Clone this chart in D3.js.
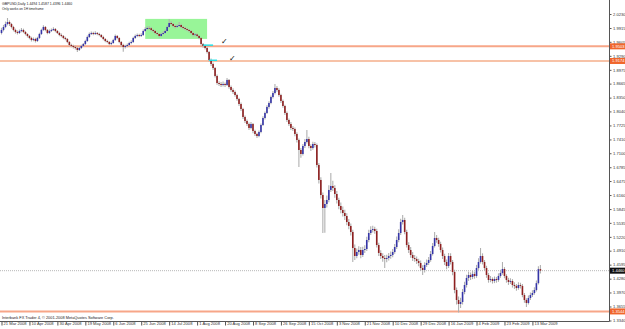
<!DOCTYPE html>
<html>
<head>
<meta charset="utf-8">
<script src="https://cdn.jsdelivr.net/npm/d3@7"></script>
<style>
  html, body { margin: 0; padding: 0; background: #fff; }
  #chart { width: 625px; height: 329px; }
  svg { display: block; font-family: "Liberation Sans", Arial, sans-serif; }
</style>
</head>
<body>
<div id="chart"></div>
<script>
// 标签
const headerText = "GBPUSD,Daily  1.4494 1.4587 1.4396 1.4460"
const noteText = "Only works on 1H timeframe"
const footerText = "Interbank FX Trader 4, \u00a9 2001-2008 MetaQuotes Software Corp."

// 时间轴: bar index -> 日期
const dateBars = [0, 14, 28, 42, 56, 70, 84, 98, 112, 126, 140, 154, 168, 182, 196, 210, 224, 238, 252, 266]
const dateLabels = ["21 Mar 2008", "10 Apr 2008", "30 Apr 2008", "19 May 2008", "6 Jun 2008", "25 Jun 2008",
  "14 Jul 2008", "1 Aug 2008", "20 Aug 2008", "8 Sep 2008", "26 Sep 2008", "15 Oct 2008", "3 Nov 2008",
  "21 Nov 2008", "10 Dec 2008", "29 Dec 2008", "16 Jan 2009", "4 Feb 2009", "23 Feb 2009", "13 Mar 2009"]

// 价格轴
const priceTicks = [2.0230, 1.9915, 1.9605, 1.9290, 1.8975, 1.8665, 1.8350, 1.8040, 1.7725, 1.7410, 1.7100,
  1.6785, 1.6475, 1.6160, 1.5845, 1.5535, 1.5220, 1.4910, 1.4595, 1.4280, 1.3970, 1.3655, 1.3340]

// 日线 OHLC
const opens = [
  1.9803, 1.9871, 1.9938, 2.0005, 2.0050, 2.0005, 1.9938, 1.9871, 1.9826, 1.9803,
  1.9848, 1.9871, 1.9826, 1.9781, 1.9736, 1.9691, 1.9646, 1.9668, 1.9623, 1.9691,
  1.9781, 1.9871, 1.9938, 1.9871, 1.9803, 1.9848, 1.9871, 1.9893, 1.9848, 1.9803,
  1.9758, 1.9736, 1.9691, 1.9668, 1.9601, 1.9533, 1.9511, 1.9488, 1.9466, 1.9421,
  1.9466, 1.9511, 1.9556, 1.9623, 1.9713, 1.9781, 1.9803, 1.9781, 1.9803, 1.9781,
  1.9758, 1.9713, 1.9668, 1.9623, 1.9601, 1.9556, 1.9578, 1.9646, 1.9736, 1.9691,
  1.9601, 1.9533, 1.9488, 1.9511, 1.9533, 1.9578, 1.9601, 1.9691, 1.9736, 1.9758,
  1.9736, 1.9758, 1.9848, 1.9893, 1.9916, 1.9910, 1.9871, 1.9848, 1.9803, 1.9781,
  1.9736, 1.9781, 1.9803, 1.9848, 1.9938, 2.0028, 2.0005, 1.9961, 1.9938, 1.9961,
  1.9983, 1.9938, 1.9916, 1.9893, 1.9871, 1.9848, 1.9803, 1.9758, 1.9770, 1.9736,
  1.9691, 1.9556, 1.9511, 1.9466, 1.9376, 1.9196, 1.9106, 1.9016, 1.8837, 1.8679,
  1.8657, 1.8634, 1.8657, 1.8634, 1.8747, 1.8589, 1.8522, 1.8477, 1.8409, 1.8320,
  1.8207, 1.8095, 1.7915, 1.7825, 1.7757, 1.7668, 1.7757, 1.7600, 1.7533, 1.7488,
  1.7578, 1.7735, 1.7892, 1.8005, 1.8140, 1.8230, 1.8364, 1.8454, 1.8567, 1.8522,
  1.8409, 1.8275, 1.8162, 1.8005, 1.7847, 1.7757, 1.7668, 1.7645, 1.7533, 1.7398,
  1.7173, 1.7083, 1.7263, 1.7353, 1.7420, 1.7263, 1.7218, 1.7308, 1.7285, 1.6836,
  1.6499, 1.6161, 1.5869, 1.5959, 1.6049, 1.6274, 1.6364, 1.6319, 1.6184, 1.6049,
  1.5914, 1.5824, 1.5757, 1.5689, 1.5554, 1.5465, 1.5330, 1.4970, 1.4790, 1.4880,
  1.4925, 1.4813, 1.4925, 1.4947, 1.5150, 1.5307, 1.5375, 1.5397, 1.5352, 1.5037,
  1.4858, 1.4790, 1.4745, 1.4723, 1.4745, 1.4790, 1.4813, 1.4880, 1.4992, 1.5150,
  1.5307, 1.5554, 1.5599, 1.5330, 1.5037, 1.4925, 1.4813, 1.4745, 1.4723, 1.4678,
  1.4633, 1.4520, 1.4476, 1.4588, 1.4633, 1.4700, 1.4835, 1.5015, 1.5195, 1.5150,
  1.5060, 1.4925, 1.4790, 1.4655, 1.4565, 1.4790, 1.4655, 1.4431, 1.4026, 1.3801,
  1.3711, 1.3756, 1.3981, 1.4138, 1.4296, 1.4363, 1.4318, 1.4386, 1.4341, 1.4520,
  1.4655, 1.4790, 1.4655, 1.4520, 1.4363, 1.4251, 1.4273, 1.4228, 1.4273, 1.4251,
  1.4341, 1.4408, 1.4498, 1.4341, 1.4251, 1.4206, 1.4228, 1.4138, 1.4116, 1.4071,
  1.4138, 1.4116, 1.3913, 1.3801, 1.3734, 1.3846, 1.3913, 1.3958, 1.4026, 1.4180, 1.4494
]
const highs = [
  1.9920, 1.9985, 2.0060, 2.0140, 2.0085, 2.0030, 1.9965, 1.9900, 1.9860, 1.9880,
  1.9915, 1.9900, 1.9850, 1.9800, 1.9760, 1.9720, 1.9700, 1.9695, 1.9720, 1.9810,
  1.9900, 1.9975, 1.9960, 1.9890, 1.9880, 1.9905, 1.9930, 1.9915, 1.9870, 1.9830,
  1.9790, 1.9760, 1.9720, 1.9690, 1.9625, 1.9560, 1.9540, 1.9515, 1.9490, 1.9495,
  1.9540, 1.9580, 1.9650, 1.9745, 1.9815, 1.9835, 1.9830, 1.9840, 1.9825, 1.9810,
  1.9780, 1.9740, 1.9690, 1.9650, 1.9625, 1.9610, 1.9675, 1.9770, 1.9760, 1.9710,
  1.9625, 1.9560, 1.9540, 1.9565, 1.9605, 1.9640, 1.9720, 1.9770, 1.9790, 1.9785,
  1.9795, 1.9880, 1.9930, 1.9955, 1.9960, 1.9935, 1.9895, 1.9870, 1.9830, 1.9800,
  1.9810, 1.9840, 1.9880, 1.9970, 2.0118, 2.0065, 2.0030, 1.9990, 2.0000, 2.0050,
  2.0010, 1.9965, 1.9945, 1.9920, 1.9895, 1.9870, 1.9830, 1.9800, 1.9790, 1.9760,
  1.9710, 1.9580, 1.9540, 1.9490, 1.9400, 1.9230, 1.9140, 1.9040, 1.8870, 1.8720,
  1.8700, 1.8710, 1.8690, 1.8790, 1.8770, 1.8620, 1.8560, 1.8510, 1.8440, 1.8350,
  1.8240, 1.8120, 1.7950, 1.7860, 1.7790, 1.7800, 1.7780, 1.7630, 1.7560, 1.7610,
  1.7770, 1.7930, 1.8040, 1.8180, 1.8270, 1.8400, 1.8500, 1.8657, 1.8610, 1.8560,
  1.8440, 1.8310, 1.8190, 1.8040, 1.7880, 1.7800, 1.7710, 1.7680, 1.7570, 1.7430,
  1.7220, 1.7310, 1.7420, 1.7623, 1.7470, 1.7300, 1.7360, 1.7350, 1.7320, 1.6880,
  1.6560, 1.6220, 1.6050, 1.6150, 1.6380, 1.6656, 1.6480, 1.6380, 1.6250, 1.6100,
  1.5990, 1.5900, 1.5830, 1.5750, 1.5620, 1.5520, 1.5380, 1.5050, 1.4960, 1.5010,
  1.4990, 1.5000, 1.5030, 1.5220, 1.5380, 1.5460, 1.5470, 1.5450, 1.5400, 1.5090,
  1.4920, 1.4850, 1.4810, 1.4820, 1.4860, 1.4890, 1.4950, 1.5060, 1.5230, 1.5390,
  1.5630, 1.5712, 1.5650, 1.5380, 1.5100, 1.4990, 1.4880, 1.4810, 1.4780, 1.4730,
  1.4690, 1.4580, 1.4650, 1.4710, 1.4770, 1.4900, 1.5080, 1.5330, 1.5260, 1.5200,
  1.5110, 1.4980, 1.4840, 1.4710, 1.4860, 1.4850, 1.4700, 1.4480, 1.4080, 1.3880,
  1.3850, 1.4050, 1.4210, 1.4370, 1.4440, 1.4420, 1.4460, 1.4440, 1.4590, 1.4740,
  1.4970, 1.4850, 1.4700, 1.4570, 1.4410, 1.4340, 1.4310, 1.4330, 1.4320, 1.4400,
  1.4480, 1.4655, 1.4540, 1.4380, 1.4300, 1.4290, 1.4270, 1.4200, 1.4160, 1.4200,
  1.4190, 1.4160, 1.3960, 1.3840, 1.3900, 1.3970, 1.4020, 1.4090, 1.4240, 1.4560, 1.4587
]
const lows = [
  1.9770, 1.9840, 1.9910, 1.9975, 1.9960, 1.9905, 1.9840, 1.9790, 1.9770, 1.9780,
  1.9820, 1.9800, 1.9750, 1.9700, 1.9660, 1.9610, 1.9615, 1.9590, 1.9600, 1.9670,
  1.9760, 1.9850, 1.9845, 1.9775, 1.9780, 1.9825, 1.9850, 1.9820, 1.9780, 1.9730,
  1.9710, 1.9665, 1.9640, 1.9575, 1.9505, 1.9480, 1.9455, 1.9430, 1.9376, 1.9400,
  1.9445, 1.9490, 1.9535, 1.9600, 1.9690, 1.9760, 1.9755, 1.9760, 1.9750, 1.9730,
  1.9690, 1.9640, 1.9595, 1.9570, 1.9525, 1.9530, 1.9560, 1.9625, 1.9665, 1.9575,
  1.9500, 1.9380, 1.9455, 1.9480, 1.9510, 1.9550, 1.9580, 1.9670, 1.9710, 1.9705,
  1.9715, 1.9735, 1.9825, 1.9870, 1.9880, 1.9845, 1.9815, 1.9775, 1.9750, 1.9700,
  1.9715, 1.9760, 1.9785, 1.9830, 1.9920, 1.9975, 1.9930, 1.9905, 1.9915, 1.9940,
  1.9910, 1.9885, 1.9865, 1.9840, 1.9815, 1.9775, 1.9725, 1.9730, 1.9705, 1.9660,
  1.9530, 1.9470, 1.9430, 1.9340, 1.9160, 1.9060, 1.8970, 1.8800, 1.8640, 1.8610,
  1.8590, 1.8600, 1.8590, 1.8610, 1.8550, 1.8480, 1.8430, 1.8370, 1.8280, 1.8160,
  1.8050, 1.7870, 1.7780, 1.7710, 1.7620, 1.7640, 1.7550, 1.7490, 1.7443, 1.7460,
  1.7550, 1.7710, 1.7860, 1.7980, 1.8100, 1.8200, 1.8330, 1.8420, 1.8480, 1.8370,
  1.8230, 1.8120, 1.7960, 1.7800, 1.7710, 1.7620, 1.7600, 1.7480, 1.7340, 1.6791,
  1.7000, 1.7050, 1.7220, 1.7320, 1.7210, 1.7150, 1.7180, 1.7230, 1.6780, 1.6420,
  1.6080, 1.5307, 1.5310, 1.5880, 1.6000, 1.6230, 1.6250, 1.6100, 1.5970, 1.5840,
  1.5750, 1.5680, 1.5600, 1.5480, 1.5390, 1.5250, 1.4655, 1.4700, 1.4740, 1.4820,
  1.4740, 1.4770, 1.4860, 1.4900, 1.5100, 1.5260, 1.5320, 1.5290, 1.4980, 1.4790,
  1.4720, 1.4660, 1.4520, 1.4650, 1.4690, 1.4730, 1.4760, 1.4840, 1.4950, 1.5100,
  1.5260, 1.5500, 1.5280, 1.4980, 1.4860, 1.4750, 1.4680, 1.4660, 1.4610, 1.4560,
  1.4450, 1.4363, 1.4420, 1.4540, 1.4590, 1.4660, 1.4800, 1.4980, 1.5090, 1.5000,
  1.4870, 1.4720, 1.4590, 1.4490, 1.4520, 1.4600, 1.4360, 1.3950, 1.3700, 1.3520,
  1.3620, 1.3700, 1.3930, 1.4080, 1.4230, 1.4250, 1.4270, 1.4280, 1.4300, 1.4480,
  1.4620, 1.4600, 1.4460, 1.4300, 1.4190, 1.4200, 1.4170, 1.4180, 1.4190, 1.4210,
  1.4300, 1.4370, 1.4290, 1.4190, 1.4140, 1.4160, 1.4080, 1.4050, 1.4010, 1.4030,
  1.4060, 1.3860, 1.3740, 1.3644, 1.3700, 1.3800, 1.3870, 1.3920, 1.3990, 1.4150, 1.4396
]
const closes = [
  1.9871, 1.9938, 2.0005, 2.0050, 2.0005, 1.9938, 1.9871, 1.9826, 1.9803, 1.9848,
  1.9871, 1.9826, 1.9781, 1.9736, 1.9691, 1.9646, 1.9668, 1.9623, 1.9691, 1.9781,
  1.9871, 1.9938, 1.9871, 1.9803, 1.9848, 1.9871, 1.9893, 1.9848, 1.9803, 1.9758,
  1.9736, 1.9691, 1.9668, 1.9601, 1.9533, 1.9511, 1.9488, 1.9466, 1.9421, 1.9466,
  1.9511, 1.9556, 1.9623, 1.9713, 1.9781, 1.9803, 1.9781, 1.9803, 1.9781, 1.9758,
  1.9713, 1.9668, 1.9623, 1.9601, 1.9556, 1.9578, 1.9646, 1.9736, 1.9691, 1.9601,
  1.9533, 1.9488, 1.9511, 1.9533, 1.9578, 1.9601, 1.9691, 1.9736, 1.9758, 1.9736,
  1.9758, 1.9848, 1.9893, 1.9916, 1.9910, 1.9871, 1.9848, 1.9803, 1.9781, 1.9736,
  1.9781, 1.9803, 1.9848, 1.9938, 2.0028, 2.0005, 1.9961, 1.9938, 1.9961, 1.9983,
  1.9938, 1.9916, 1.9893, 1.9871, 1.9848, 1.9803, 1.9758, 1.9770, 1.9736, 1.9691,
  1.9556, 1.9511, 1.9466, 1.9376, 1.9196, 1.9106, 1.9016, 1.8837, 1.8679, 1.8657,
  1.8634, 1.8657, 1.8634, 1.8747, 1.8589, 1.8522, 1.8477, 1.8409, 1.8320, 1.8207,
  1.8095, 1.7915, 1.7825, 1.7757, 1.7668, 1.7757, 1.7600, 1.7533, 1.7488, 1.7578,
  1.7735, 1.7892, 1.8005, 1.8140, 1.8230, 1.8364, 1.8454, 1.8567, 1.8522, 1.8409,
  1.8275, 1.8162, 1.8005, 1.7847, 1.7757, 1.7668, 1.7645, 1.7533, 1.7398, 1.7173,
  1.7083, 1.7263, 1.7353, 1.7420, 1.7263, 1.7218, 1.7308, 1.7285, 1.6836, 1.6499,
  1.6161, 1.5869, 1.5959, 1.6049, 1.6274, 1.6364, 1.6319, 1.6184, 1.6049, 1.5914,
  1.5824, 1.5757, 1.5689, 1.5554, 1.5465, 1.5330, 1.4970, 1.4790, 1.4880, 1.4925,
  1.4813, 1.4925, 1.4947, 1.5150, 1.5307, 1.5375, 1.5397, 1.5352, 1.5037, 1.4858,
  1.4790, 1.4745, 1.4723, 1.4745, 1.4790, 1.4813, 1.4880, 1.4992, 1.5150, 1.5307,
  1.5554, 1.5599, 1.5330, 1.5037, 1.4925, 1.4813, 1.4745, 1.4723, 1.4678, 1.4633,
  1.4520, 1.4476, 1.4588, 1.4633, 1.4700, 1.4835, 1.5015, 1.5195, 1.5150, 1.5060,
  1.4925, 1.4790, 1.4655, 1.4565, 1.4790, 1.4655, 1.4431, 1.4026, 1.3801, 1.3711,
  1.3756, 1.3981, 1.4138, 1.4296, 1.4363, 1.4318, 1.4386, 1.4341, 1.4520, 1.4655,
  1.4790, 1.4655, 1.4520, 1.4363, 1.4251, 1.4273, 1.4228, 1.4273, 1.4251, 1.4341,
  1.4408, 1.4498, 1.4341, 1.4251, 1.4206, 1.4228, 1.4138, 1.4116, 1.4071, 1.4138,
  1.4116, 1.3913, 1.3801, 1.3734, 1.3846, 1.3913, 1.3958, 1.4026, 1.4180, 1.4494, 1.4460
]

// 图上的对象 (水平线、区域、标记)
const levelPrices = [1.9503, 1.9174, 1.3544]
const levelWidths = [2, 1.2, 2]
const lastPrice = 1.4460
const zoneBars = [72, 103]
const zonePrices = [2.0120, 1.9670]
const cyanBars = [[101, 106], [104, 108]]
const cyanPrices = [1.9530, 1.9190]
const checkBars = [110, 114]
const checkPrices = [1.9560, 1.9180]

const W = 625, H = 329
const plot = {left: 0, top: 0, right: 609, bottom: 321}

const container = d3.select("#chart")
container.html("")
const svg = container.append("svg").attr("width", W).attr("height", H)
svg.append("rect").attr("width", W).attr("height", H).attr("fill", "#fff")

const x = d3.scaleLinear().domain([0, closes.length - 1]).range([1.5, 540.4])
const y = d3.scaleLinear().domain([1.3340, 2.0230]).range([320.5, 14])

const root = svg.append("g")

// 绿色区域
root.append("rect")
  .attr("x", x(zoneBars[0])).attr("width", x(zoneBars[1]) - x(zoneBars[0]))
  .attr("y", y(zonePrices[0])).attr("height", y(zonePrices[1]) - y(zonePrices[0]))
  .attr("fill", "#98f598")

// 水平线
root.selectAll("line.level")
  .data(levelPrices)
  .enter()
  .append("line")
  .attr("x1", plot.left).attr("x2", plot.right)
  .attr("y1", d => y(d)).attr("y2", d => y(d))
  .attr("stroke", (d, i) => i === 1 ? "#ef8650" : "#f7a688")
  .attr("stroke-width", (d, i) => levelWidths[i])

// 当前价 虚线
root.append("line")
  .attr("x1", plot.left).attr("x2", plot.right)
  .attr("y1", y(lastPrice)).attr("y2", y(lastPrice))
  .attr("stroke", "#9a9a9a").attr("stroke-width", 0.7).attr("stroke-dasharray", "1,1")

// 蜡烛
const bars = d3.range(closes.length)
const candles = root.append("g")
candles.selectAll("line")
  .data(bars)
  .enter()
  .append("line")
  .attr("x1", i => x(i)).attr("x2", i => x(i))
  .attr("y1", i => y(highs[i])).attr("y2", i => y(lows[i]))
  .attr("stroke", "#b0b0b0").attr("stroke-width", 1.1)
candles.selectAll("rect")
  .data(bars)
  .enter()
  .append("rect")
  .attr("x", i => x(i) - 0.8).attr("width", 1.6)
  .attr("y", i => y(Math.max(opens[i], closes[i])))
  .attr("height", i => Math.max(0.6, Math.abs(y(opens[i]) - y(closes[i]))))
  .attr("fill", i => closes[i] >= opens[i] ? "#3535a8" : "#8e2020")

// 青色短线
root.selectAll("line.cyan")
  .data(cyanBars)
  .enter()
  .append("line")
  .attr("x1", d => x(d[0])).attr("x2", d => x(d[1]))
  .attr("y1", (d, i) => y(cyanPrices[i])).attr("y2", (d, i) => y(cyanPrices[i]))
  .attr("stroke", "#19e0e8").attr("stroke-width", 1.4)

// 勾号
root.selectAll("text.check")
  .data(checkBars)
  .enter()
  .append("text")
  .attr("x", d => x(d)).attr("y", (d, i) => y(checkPrices[i]))
  .attr("font-family", "DejaVu Sans").attr("font-size", 8)
  .attr("fill", "#111")
  .text("\u2713")

// 边框
svg.append("line").attr("x1", plot.right + 0.5).attr("x2", plot.right + 0.5)
  .attr("y1", 0).attr("y2", plot.bottom + 0.5).attr("stroke", "#555").attr("stroke-width", 1)
svg.append("line").attr("x1", 0).attr("x2", plot.right + 0.5)
  .attr("y1", plot.bottom + 0.5).attr("y2", plot.bottom + 0.5).attr("stroke", "#555").attr("stroke-width", 1)

// 价格轴
const yAxis = d3.axisRight(y).tickValues(priceTicks).tickFormat(d3.format(".4f")).tickSize(2).tickPadding(1.5)
const yg = svg.append("g").attr("transform", `translate(${plot.right + 0.5},0)`).call(yAxis)
yg.select(".domain").remove()
yg.selectAll("line").attr("stroke", "#555")
yg.selectAll("text").attr("font-size", 4.1).attr("fill", "#333").attr("font-family", "Liberation Sans, Arial, sans-serif")

// 价格标签
const tags = levelPrices.map((p, i) => ({p, fill: "#f0662c"})).concat([{p: lastPrice, fill: "#111"}])
const tagG = svg.append("g").selectAll("g").data(tags).enter().append("g")
  .attr("transform", d => `translate(${plot.right + 1},${y(d.p)})`)
tagG.append("rect").attr("x", 0).attr("y", -3).attr("width", 15).attr("height", 6).attr("fill", d => d.fill)
tagG.append("text").attr("x", 2).attr("y", 1.5)
  .attr("font-size", 4.1).attr("fill", "#fff")
  .text(d => d.p.toFixed(4))

// 时间轴
const xAxis = d3.axisBottom(x).tickValues(dateBars).tickFormat((d, i) => dateLabels[i]).tickSize(4).tickPadding(0)
const xg = svg.append("g").attr("transform", `translate(0,${plot.bottom + 0.5})`).call(xAxis)
xg.select(".domain").remove()
xg.selectAll("line").attr("stroke", "#555")
xg.selectAll("text")
  .attr("text-anchor", "start").attr("dx", 1.6).attr("y", 1).attr("dy", "0.71em")
  .attr("font-size", 4.1).attr("fill", "#333").attr("font-family", "Liberation Sans, Arial, sans-serif")

// 文字
const texts = svg.append("g").attr("fill", "#222")
texts.append("text").attr("x", 2).attr("y", 4.6).attr("font-size", 3.5).text(headerText)
texts.append("text").attr("x", 2).attr("y", 9.8).attr("font-size", 3.3).text(noteText)
texts.append("text").attr("x", 2).attr("y", 319.4).attr("font-size", 3.9).text(footerText)
</script>
</body>
</html>
